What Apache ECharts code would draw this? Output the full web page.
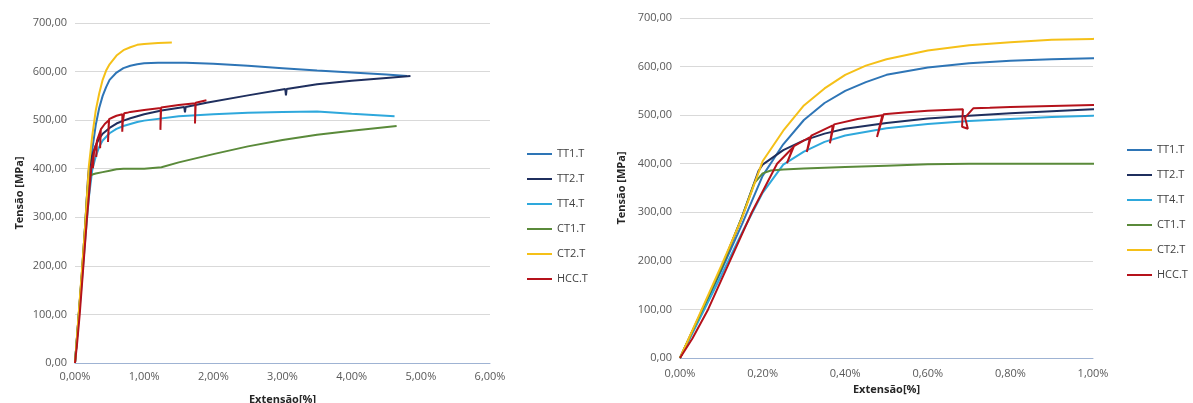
<!DOCTYPE html>
<html>
<head>
<meta charset="utf-8">
<script src="https://cdn.jsdelivr.net/npm/echarts@6/dist/echarts.min.js"></script>
<style>
  html, body { margin: 0; padding: 0; background: #fff; }
  #main { width: 1193px; height: 403px; }
</style>
</head>
<body>
<div id="main"></div>
<script>
// nomes dos ensaios e cores
const seriesNames = ['TT1.T', 'TT2.T', 'TT4.T', 'CT1.T', 'CT2.T', 'HCC.T'];
const seriesColors = ['#2e75b6', '#1f2f5e', '#2ea8dc', '#5a8a3a', '#f5c018', '#b5121b'];

// pontos [extensão %, tensão MPa]
const tt1 = [[0,0],[0.05,90],[0.1,180],[0.15,275],[0.2,375],[0.25,440],[0.3,490],[0.35,525],[0.4,550],[0.45,568],[0.5,583],[0.6,598],[0.7,607],[0.8,612],[0.9,615],[1.0,617],[1.2,618],[1.6,618],[2.0,616],[2.5,612],[3.0,607],[3.5,602],[4.0,598],[4.5,594],[4.8,591]];
const tt2 = [[0,0],[0.05,92],[0.1,185],[0.15,290],[0.19,385],[0.2,398],[0.25,428],[0.3,448],[0.35,462],[0.4,472],[0.5,484],[0.6,493],[0.7,499],[0.8,504],[0.9,508],[1.0,512],[1.25,520],[1.58,527],[1.59,516],[1.6,527],[1.9,536],[2.5,551],[3.04,564],[3.05,551],[3.06,564],[3.5,574],[4.0,581],[4.5,587],[4.85,591]];
const tt4 = [[0,0],[0.05,85],[0.1,170],[0.15,258],[0.2,340],[0.25,398],[0.3,425],[0.35,445],[0.4,458],[0.5,473],[0.6,482],[0.7,488],[0.8,492],[0.9,496],[1.0,499],[1.5,508],[2.0,512],[2.5,515],[3.0,517],[3.5,518],[4.0,513],[4.62,508]];
const ct1 = [[0,0],[0.05,92],[0.1,185],[0.15,290],[0.18,360],[0.2,380],[0.22,386],[0.25,388],[0.3,390],[0.4,393],[0.5,396],[0.6,399],[0.7,400],[1.0,400],[1.25,403],[1.5,413],[2.0,430],[2.5,446],[3.0,459],[3.5,470],[4.0,478],[4.65,488]];
const ct2 = [[0,0],[0.05,95],[0.1,190],[0.15,288],[0.2,405],[0.25,468],[0.3,520],[0.35,555],[0.4,583],[0.45,602],[0.5,615],[0.6,633],[0.7,644],[0.8,650],[0.9,655],[1.0,657],[1.2,659],[1.4,660]];
const hcc = [[0,0],[0.03,40],[0.068,100],[0.121,200],[0.174,300],[0.235,400],[0.274,434],[0.259,401],[0.276,436],[0.315,455],[0.307,424],[0.318,458],[0.37,479],[0.363,442],[0.373,481],[0.43,492],[0.49,500],[0.477,455],[0.493,502],[0.55,506],[0.6,509],[0.685,512],[0.683,476],[0.697,472],[0.69,495],[0.71,514],[0.75,515],[0.8,517],[0.9,519],[1.0,521],[1.24,525],[1.235,480],[1.245,526],[1.5,531],[1.74,535],[1.735,493],[1.745,536],[1.9,541]];

// rótulos dos eixos
const yTickLabels = ['0,00', '100,00', '200,00', '300,00', '400,00', '500,00', '600,00', '700,00'];
const xTickLabelsFull = ['0,00%', '1,00%', '2,00%', '3,00%', '4,00%', '5,00%', '6,00%'];
const xTickLabelsZoom = ['0,00%', '0,20%', '0,40%', '0,60%', '0,80%', '1,00%'];

const allData = [tt1, tt2, tt4, ct1, ct2, hcc];

const chart = echarts.init(document.getElementById('main'), null, { renderer: 'canvas' });

const font = 'Open Sans';
const labelStyle = { color: '#595959', fontSize: 11, fontFamily: font };
const nameStyle = { color: '#262626', fontSize: 11, fontWeight: 'bold', fontFamily: font };

function yAxisFor(gridIndex, gap) {
    return {
        type: 'value',
        gridIndex: gridIndex,
        min: 0,
        max: 700,
        interval: 100,
        name: 'Tensão [MPa]',
        nameLocation: 'middle',
        nameGap: gap,
        nameTextStyle: nameStyle,
        axisLine: { show: false },
        axisTick: { show: false },
        axisLabel: Object.assign({ margin: 8, formatter: v => yTickLabels[Math.round(v / 100)] }, labelStyle),
        splitLine: { lineStyle: { color: '#d9d9d9', width: 1 } }
    };
}

function xAxisFor(gridIndex, max, interval, labels, gap, margin) {
    return {
        type: 'value',
        gridIndex: gridIndex,
        min: 0,
        max: max,
        interval: interval,
        name: 'Extensão[%]',
        nameLocation: 'middle',
        nameGap: gap,
        nameTextStyle: nameStyle,
        axisLine: { show: true, lineStyle: { color: '#9fb3d3', width: 1 } },
        axisTick: { show: false },
        axisLabel: Object.assign({ margin: margin, formatter: v => labels[Math.round(v / interval)] }, labelStyle),
        splitLine: { show: false }
    };
}

function legendAt(left, top) {
    return {
        data: seriesNames,
        orient: 'vertical',
        left: left,
        top: top,
        padding: 0,
        icon: 'rect',
        itemWidth: 25,
        itemHeight: 2,
        itemGap: 11,
        textStyle: { color: '#404040', fontSize: 11, lineHeight: 14, fontFamily: font }
    };
}

const series = [];
[0, 1].forEach(g => {
    seriesNames.forEach((name, i) => {
        series.push({
            name: name,
            type: 'line',
            xAxisIndex: g,
            yAxisIndex: g,
            symbol: 'none',
            smooth: false,
            clip: true,
            color: seriesColors[i],
            lineStyle: { width: 2, color: seriesColors[i] },
            data: allData[i]
        });
    });
});

const option = {
    animation: false,
    textStyle: { fontFamily: font },
    legend: [legendAt(527, 147), legendAt(1127, 143)],
    grid: [
        { left: 75, top: 23, width: 415, height: 340, outerBoundsMode: 'none', containLabel: false },
        { left: 680, top: 18, width: 413, height: 340, outerBoundsMode: 'none', containLabel: false }
    ],
    xAxis: [
        xAxisFor(0, 6, 1, xTickLabelsFull, 31, 8),
        xAxisFor(1, 1, 0.2, xTickLabelsZoom, 23, 10)
    ],
    yAxis: [yAxisFor(0, 50), yAxisFor(1, 53)],
    series: series
};

chart.setOption(option);
window.addEventListener('resize', chart.resize);
</script>
</body>
</html>
